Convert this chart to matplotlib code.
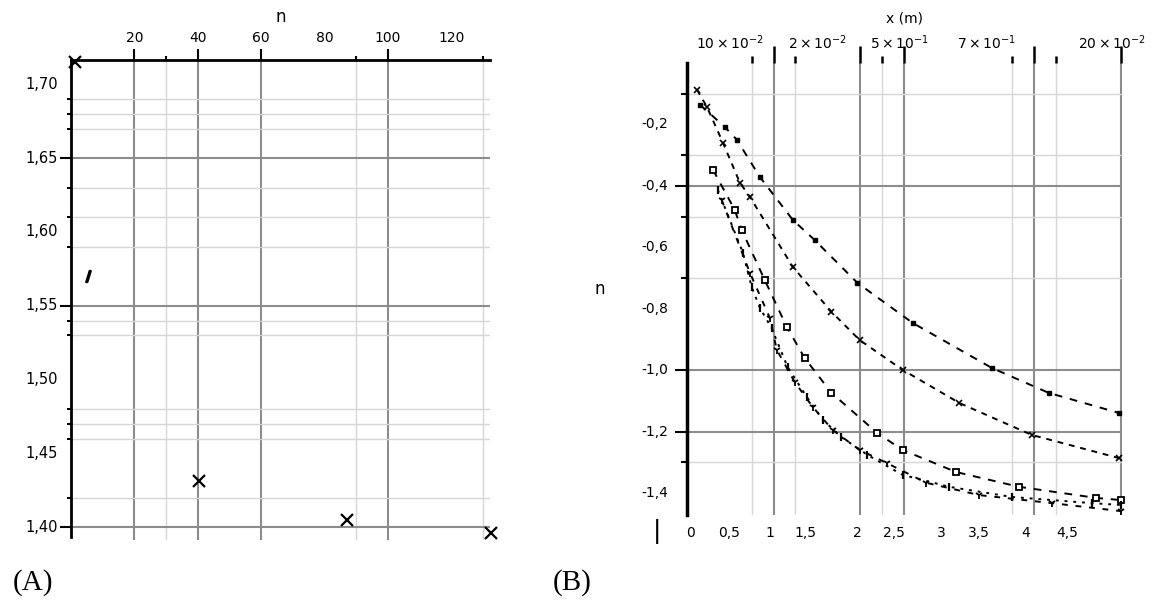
import matplotlib
matplotlib.use("Agg")
import matplotlib.pyplot as plt
import matplotlib.transforms as mtransforms

# ---------------- data ----------------
# Panel A
a_n = [1.3, 5.4, 40.4, 87.1, 132.5]
a_val = [1.715, 1.570, 1.431, 1.405, 1.396]
a_xtick_vals = [20, 40, 60, 80, 100, 120]
a_xtick_labels = ["20", "40", "60", "80", "100", "120"]
a_ytick_vals = [1.70, 1.65, 1.60, 1.55, 1.50, 1.45, 1.40]
a_ytick_labels = ["1,70", "1,65", "1,60", "1,55", "1,50", "1,45", "1,40"]
a_grid_major_x = [20, 40, 60, 100]
a_grid_minor_x = [30, 90, 130]
a_grid_major_y = [1.40, 1.55, 1.65]
a_grid_minor_y = [1.42, 1.46, 1.47, 1.48, 1.53, 1.54, 1.59, 1.61, 1.63, 1.67, 1.68, 1.69]

# Panel B
b_x1 = [3.0, 8.7, 11.5, 16.8, 24.4, 29.4, 39.3, 52.0, 70.3, 83.4, 99.5]
b_y1 = [-0.136, -0.208, -0.250, -0.371, -0.511, -0.576, -0.716, -0.846, -0.993, -1.074, -1.139]
b_x2 = [2.3, 4.6, 8.3, 12.2, 14.5, 24.4, 33.3, 39.8, 49.7, 62.8, 79.5, 99.5]
b_y2 = [-0.087, -0.143, -0.260, -0.390, -0.436, -0.664, -0.810, -0.902, -0.999, -1.107, -1.211, -1.286]
b_x3 = [6.0, 11.0, 12.6, 17.9, 23.0, 27.1, 33.3, 43.9, 49.7, 62.1, 76.6, 94.3, 100.0]
b_y3 = [-0.348, -0.478, -0.543, -0.706, -0.859, -0.960, -1.074, -1.205, -1.260, -1.332, -1.380, -1.416, -1.423]
b_x4 = [7.1, 12.9, 14.9, 16.8, 19.5, 23.2, 27.6, 31.3, 35.6, 41.6, 49.7, 60.5, 74.9, 93.3, 100.0]
b_y4 = [-0.413, -0.618, -0.729, -0.797, -0.863, -0.990, -1.087, -1.162, -1.218, -1.276, -1.341, -1.380, -1.413, -1.433, -1.439]
b_x5 = [8.0, 14.5, 19.1, 20.7, 24.8, 29.0, 33.6, 39.8, 46.0, 55.2, 67.4, 84.1, 100.0]
b_y5 = [-0.446, -0.683, -0.830, -0.934, -1.038, -1.120, -1.195, -1.260, -1.302, -1.367, -1.407, -1.433, -1.459]

b_top_label_x = [10, 30, 49, 69, 98]
b_top_labels = [r"$10\times10^{-2}$", r"$2\times10^{-2}$", r"$5\times10^{-1}$",
                r"$7\times10^{-1}$", r"$20\times10^{-2}$"]
b_ytick_vals = [-0.2, -0.4, -0.6, -0.8, -1.0, -1.2, -1.4]
b_ytick_labels = ["-0,2", "-0,4", "-0,6", "-0,8", "-1,0", "-1,2", "-1,4"]
b_bottom_label_x = [0.7, 9.7, 19.1, 27.4, 39.3, 47.8, 58.6, 67.4, 78.2, 87.6]
b_bottom_labels = ["0", "0,5", "1", "1,5", "2", "2,5", "3", "3,5", "4", "4,5"]
b_grid_major_x = [20, 40, 50, 80, 100]
b_grid_minor_x = [15, 25, 45, 75, 85]
b_grid_major_y = [-0.4, -1.0, -1.2]
b_grid_minor_y = [-0.1, -0.3, -0.5, -0.7, -1.3]

# ---------------- figure ----------------
W, H = 1157, 602
fig = plt.figure(figsize=(W / 100, H / 100), dpi=100)
fig.patch.set_facecolor("white")


def frac(l, t, r, b):
    return [l / W, 1 - b / H, (r - l) / W, (b - t) / H]


DARK = "#8c8c8c"
LIGHT = "#d6d6d6"

# ---------- Panel A ----------
axA = fig.add_axes(frac(71, 60, 490, 540))
axA.set_xlim(0, 132.2)
axA.set_ylim(1.3912, 1.7166)
axA.spines["right"].set_visible(False)
axA.spines["bottom"].set_visible(False)
axA.spines["top"].set_linewidth(2)
axA.spines["left"].set_linewidth(2)
axA.spines["left"].set_bounds(1.3935, 1.7166)
axA.xaxis.tick_top()
axA.set_xticks(a_grid_major_x)
axA.set_xticks(a_grid_minor_x, minor=True)
axA.set_yticks(a_grid_major_y)
axA.set_yticks(a_grid_minor_y, minor=True)
axA.tick_params(which="both", labeltop=False, labelbottom=False, labelleft=False,
                bottom=False, top=True, left=True, direction="out")
axA.tick_params(which="major", length=8, width=1.5)
axA.tick_params(which="minor", length=3, width=1.5)
axA.grid(which="major", color=DARK, lw=1.5)
axA.grid(which="minor", color=LIGHT, lw=1.0)
axA.set_axisbelow(True)

a_markers = ["x", "$/$", "x", "x", "x"]
for xi, yi, mk in zip(a_n, a_val, a_markers):
    axA.plot([xi], [yi], ls="none", marker=mk, color="black", ms=8, mew=1.6,
             clip_on=False, zorder=5)

trA_x = mtransforms.blended_transform_factory(axA.transData, axA.transAxes)
trA_y = mtransforms.blended_transform_factory(axA.transAxes, axA.transData)
for v, lab in zip(a_xtick_vals, a_xtick_labels):
    axA.text(v, 1 + 22 / 480, lab, transform=trA_x, ha="center", va="center", fontsize=10)
for v, lab in zip(a_ytick_vals, a_ytick_labels):
    axA.text(-13 / 419, v, lab, transform=trA_y, ha="right", va="center", fontsize=10.5)
axA.text(0.5, 1 + 43 / 480, "n", transform=axA.transAxes, ha="center", va="center", fontsize=12)

# ---------- Panel B ----------
axB = fig.add_axes(frac(687, 63, 1122, 515))
axB.set_xlim(0, 100.3)
axB.set_ylim(-1.4717, 0.0)
for s in ["top", "right", "bottom"]:
    axB.spines[s].set_visible(False)
axB.spines["left"].set_linewidth(2.5)
axB.xaxis.tick_top()
axB.set_xticks(b_grid_major_x)
axB.set_xticks(b_grid_minor_x, minor=True)
axB.set_yticks(b_grid_major_y)
axB.set_yticks(b_grid_minor_y, minor=True)
axB.tick_params(which="both", labeltop=False, labelbottom=False, labelleft=False,
                bottom=False, top=True, left=True, direction="out")
axB.tick_params(axis="x", which="major", length=12, width=1.8)
axB.tick_params(axis="x", which="minor", length=5, width=1.8)
axB.tick_params(axis="y", which="major", length=9, width=1.5)
axB.tick_params(axis="y", which="minor", length=4, width=1.5)
axB.grid(which="major", color=DARK, lw=1.5)
axB.grid(which="minor", color=LIGHT, lw=1.0)
axB.set_axisbelow(True)

series = [
    (b_x1, b_y1, dict(marker="s", ms=3, mfc="black", ls=(0, (4, 4)))),
    (b_x2, b_y2, dict(marker="x", ms=4, mew=1.2, ls=(0, (3, 3)))),
    (b_x3, b_y3, dict(marker="s", ms=5, mfc="white", mew=1.3, ls=(0, (4, 4)))),
    (b_x4, b_y4, dict(marker="|", ms=6, mew=1.6, ls=(0, (1.5, 3)))),
    (b_x5, b_y5, dict(marker="1", ms=6, mew=1.3, ls=(0, (3, 4)))),
]
for xs, ys, st in series:
    axB.plot(xs, ys, color="black", lw=1.4, clip_on=False, zorder=4, **st)

trB_x = mtransforms.blended_transform_factory(axB.transData, axB.transAxes)
trB_y = mtransforms.blended_transform_factory(axB.transAxes, axB.transData)
for v, lab in zip(b_top_label_x, b_top_labels):
    axB.text(v, 1 + 20 / 452, lab, transform=trB_x, ha="center", va="center", fontsize=10)
for v, lab in zip(b_ytick_vals, b_ytick_labels):
    axB.text(-19 / 435, v, lab, transform=trB_y, ha="right", va="center", fontsize=10)
for v, lab in zip(b_bottom_label_x, b_bottom_labels):
    axB.text(v, -18 / 452, lab, transform=trB_x, ha="center", va="center", fontsize=10)
axB.text(0.5, 1 + 45 / 452, "x (m)", transform=axB.transAxes, ha="center", va="center", fontsize=10)
axB.text(-87 / 435, 0.5, "n", transform=axB.transAxes, ha="center", va="center", fontsize=12)

fig.text(657 / W, 1 - 532 / H, "|", ha="center", va="center", fontsize=18)
fig.text(13 / W, 1 - 583 / H, "(A)", ha="left", va="center", fontsize=21, family="Liberation Serif")
fig.text(553 / W, 1 - 583 / H, "(B)", ha="left", va="center", fontsize=21, family="Liberation Serif")

fig.savefig("out.png", dpi=100, facecolor="white")
